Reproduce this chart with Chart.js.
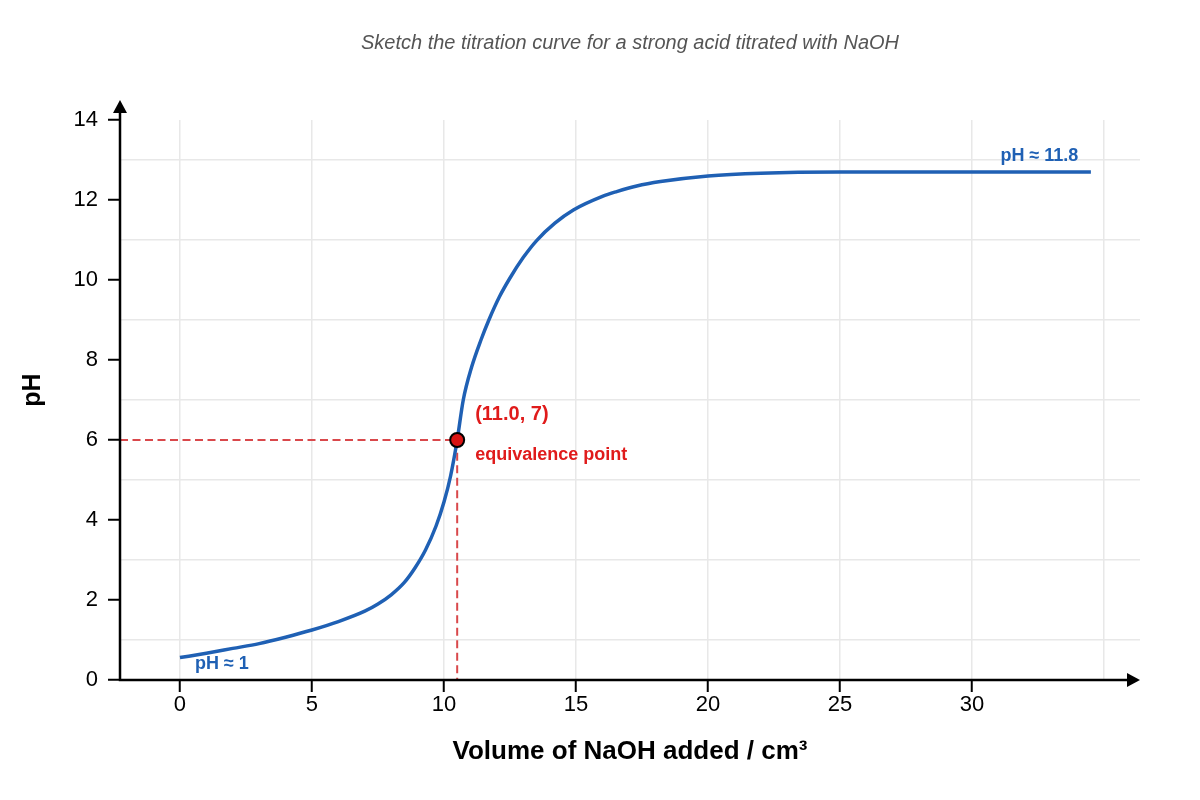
<!DOCTYPE html>
<html>
<head>
<meta charset="utf-8">
<title>Titration curve</title>
<script src="https://cdn.jsdelivr.net/npm/chart.js@4.4.1/dist/chart.umd.min.js"></script>
<style>
  html, body { margin: 0; padding: 0; background: #fff; }
  canvas { display: block; }
</style>
</head>
<body>
<canvas id="titrationChart" width="1200" height="800"></canvas>
<script>
// values
const volume = [0, 1, 2, 3, 4, 5, 6, 7, 7.5, 8, 8.5, 8.9, 9.3, 9.7, 10, 10.25, 10.5,
  10.73, 11.05, 11.4, 11.7, 12.1, 12.5, 13, 13.5, 14.2, 14.9, 16, 16.54, 17.3, 18.2, 20, 22, 25, 30, 34.5];
const pH = [0.56, 0.67, 0.79, 0.91, 1.07, 1.25, 1.46, 1.72, 1.9, 2.13, 2.44, 2.8, 3.25, 3.85, 4.45, 5.1, 6.0,
  7.0, 7.83, 8.5, 9.0, 9.58, 10.05, 10.56, 10.98, 11.42, 11.75, 12.09, 12.21, 12.35, 12.46, 12.6, 12.67, 12.7, 12.7, 12.7];
const eqPoint = { x: 10.5, y: 6 };
const xRange = [-2.27, 36.36];
const yRange = [0, 14];
const xLabelMax = 30;

const titleText = 'Sketch the titration curve for a strong acid titrated with NaOH';
const FONT = "'Liberation Sans', Arial, sans-serif";
const BLUE = '#1f60b4';
const RED = '#e01b1b';

const curve = volume.map((v, i) => ({ x: v, y: pH[i] }));
const guide = [{ x: xRange[0], y: eqPoint.y }, eqPoint, { x: eqPoint.x, y: yRange[0] }];

// title, y title, annotations and axis arrows
const extras = {
  id: 'extras',
  afterDatasetsDraw(chart) {
    const { ctx, chartArea, scales: { x, y } } = chart;
    ctx.save();
    ctx.fillStyle = '#555';
    ctx.font = 'italic 20px ' + FONT;
    ctx.textAlign = 'center';
    ctx.textBaseline = 'middle';
    ctx.fillText(titleText, (chartArea.left + chartArea.right) / 2, 43);

    ctx.save();
    ctx.translate(40, 390);
    ctx.rotate(-Math.PI / 2);
    ctx.fillStyle = '#000';
    ctx.font = 'bold 25px ' + FONT;
    ctx.textBaseline = 'alphabetic';
    ctx.fillText('pH', 0, 0);
    ctx.restore();

    const px = x.getPixelForValue(eqPoint.x);
    const py = y.getPixelForValue(eqPoint.y);
    ctx.textAlign = 'left';
    ctx.fillStyle = RED;
    ctx.font = 'bold 20px ' + FONT;
    ctx.fillText('(11.0, 7)', px + 18, py - 26);
    ctx.font = 'bold 18px ' + FONT;
    ctx.fillText('equivalence point', px + 18, py + 15);

    ctx.fillStyle = BLUE;
    ctx.font = 'bold 18px ' + FONT;
    ctx.textAlign = 'center';
    ctx.fillText('pH \u2248 11.8', x.getPixelForValue(32.55), y.getPixelForValue(13.1));
    ctx.textAlign = 'left';
    ctx.fillText('pH \u2248 1', x.getPixelForValue(0.57), y.getPixelForValue(0.4));

    // axes with arrow heads
    const l = chartArea.left, b = chartArea.bottom, t = chartArea.top, r = chartArea.right;
    ctx.strokeStyle = '#000';
    ctx.fillStyle = '#000';
    ctx.lineWidth = 2.5;
    ctx.beginPath();
    ctx.moveTo(l, t - 8);
    ctx.lineTo(l, b);
    ctx.lineTo(r - 12, b);
    ctx.stroke();
    ctx.beginPath();
    ctx.moveTo(l, t - 20);
    ctx.lineTo(l - 7, t - 7);
    ctx.lineTo(l + 7, t - 7);
    ctx.closePath();
    ctx.fill();
    ctx.beginPath();
    ctx.moveTo(r, b);
    ctx.lineTo(r - 13, b - 7);
    ctx.lineTo(r - 13, b + 7);
    ctx.closePath();
    ctx.fill();
    ctx.restore();
  }
};

const ctx = document.getElementById('titrationChart').getContext('2d');
new Chart(ctx, {
  type: 'line',
  data: {
    datasets: [
      {
        label: 'marker',
        data: [eqPoint],
        showLine: false,
        pointRadius: 7,
        pointBackgroundColor: '#d81414',
        pointBorderColor: '#000',
        pointBorderWidth: 2,
        order: 0
      },
      {
        label: 'pH',
        data: curve,
        borderColor: BLUE,
        borderWidth: 3.5,
        cubicInterpolationMode: 'monotone',
        pointRadius: 0,
        fill: false,
        order: 1
      },
      {
        label: 'guide',
        data: guide,
        borderColor: '#d9484b',
        borderWidth: 2,
        borderDash: [8, 4.5],
        pointRadius: 0,
        tension: 0,
        fill: false,
        order: 2
      }
    ]
  },
  options: {
    responsive: false,
    animation: false,
    devicePixelRatio: 1,
    layout: { padding: { top: 120, right: 60, bottom: 0, left: 0 } },
    plugins: {
      legend: { display: false },
      tooltip: { enabled: false },
      title: { display: false }
    },
    scales: {
      x: {
        type: 'linear',
        min: xRange[0],
        max: xRange[1],
        afterFit: (scale) => { scale.height = 120; },
        border: { display: false },
        grid: {
          color: '#e8e8e8',
          lineWidth: 1.5,
          tickLength: 12,
          tickWidth: 2,
          tickColor: (c) => (c.tick && c.tick.value <= xLabelMax ? '#000' : 'rgba(0,0,0,0)')
        },
        ticks: {
          stepSize: 5,
          includeBounds: false,
          autoSkip: false,
          maxRotation: 0,
          padding: 0,
          color: '#000',
          font: { family: FONT, size: 22 },
          callback: (v) => (v <= xLabelMax ? v : '')
        },
        title: {
          display: true,
          text: 'Volume of NaOH added / cm\u00b3',
          color: '#000',
          font: { family: FONT, size: 26, weight: 'bold' },
          padding: { top: 0, bottom: 33 }
        }
      },
      y: {
        min: yRange[0],
        max: yRange[1],
        afterFit: (scale) => { scale.width = 120; },
        border: { display: false },
        grid: {
          color: (c) => (c.tick && c.tick.value % 2 === 1 ? '#e8e8e8' : 'rgba(0,0,0,0)'),
          lineWidth: 1.5,
          tickLength: 12,
          tickWidth: 2,
          tickColor: (c) => (c.tick && c.tick.value % 2 === 0 ? '#000' : 'rgba(0,0,0,0)')
        },
        ticks: {
          stepSize: 1,
          autoSkip: false,
          padding: 10,
          color: '#000',
          font: { family: FONT, size: 22 },
          callback: (v) => (v % 2 === 0 ? v : '')
        },
        title: { display: false }
      }
    }
  },
  plugins: [extras]
});
</script>
</body>
</html>
